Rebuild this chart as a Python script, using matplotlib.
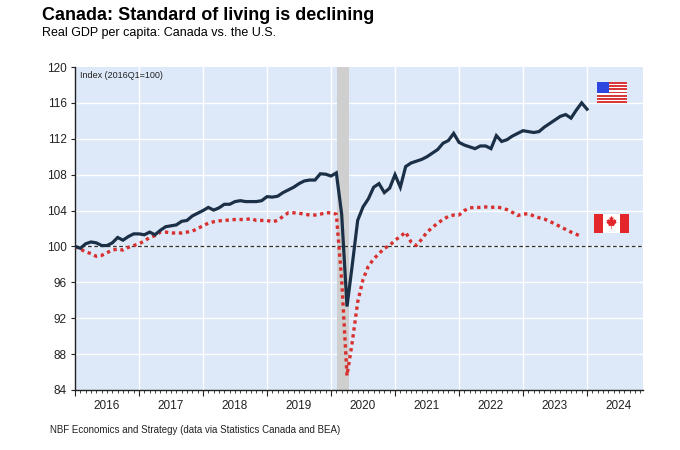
import matplotlib
matplotlib.use("Agg")
import matplotlib.pyplot as plt
import matplotlib.transforms as mtransforms
from matplotlib.patches import Rectangle, Polygon
import numpy as np

plt.rcParams['font.family'] = ['Liberation Sans', 'DejaVu Sans']

# Monthly index values, Jan 2016 = 100
us_vals = [100.0, 99.8, 100.3, 100.5, 100.4, 100.1, 100.1, 100.4, 101.0, 100.7,
           101.1, 101.4, 101.4, 101.3, 101.6, 101.3, 101.8, 102.2, 102.3, 102.4,
           102.8, 102.9, 103.4, 103.7, 104.0, 104.35, 104.05, 104.3, 104.7, 104.7,
           105.0, 105.1, 105.0, 105.0, 105.0, 105.1, 105.55, 105.5, 105.6, 106.0,
           106.3, 106.6, 107.0, 107.3, 107.4, 107.4, 108.1, 108.05, 107.85, 108.2,
           103.6, 93.3, 98.0, 102.9, 104.4, 105.3, 106.6, 107.0, 106.0, 106.5,
           108.0, 106.6, 108.9, 109.3, 109.5, 109.7, 110.0, 110.4, 110.8, 111.5,
           111.8, 112.6, 111.6, 111.3, 111.1, 110.9, 111.2, 111.2, 110.9, 112.35,
           111.7, 111.9, 112.3, 112.6, 112.9, 112.8, 112.7, 112.8, 113.3, 113.7,
           114.1, 114.5, 114.7, 114.3, 115.2, 116.0, 115.3]

ca_vals = [100.0, 99.7, 99.4, 99.2, 98.9, 99.0, 99.3, 99.6, 99.7, 99.6,
           99.9, 100.1, 100.3, 100.6, 101.0, 101.2, 101.6, 101.6, 101.5, 101.5,
           101.5, 101.6, 101.7, 102.0, 102.3, 102.6, 102.75, 102.85, 102.9, 102.95,
           103.0, 103.0, 103.0, 103.1, 102.9, 102.9, 102.9, 102.75, 102.9, 103.35,
           103.75, 103.75, 103.7, 103.6, 103.5, 103.5, 103.6, 103.75, 103.75, 103.6,
           96.3, 85.6, 89.4, 93.8, 96.3, 97.8, 98.6, 99.2, 99.8, 100.1,
           100.7, 101.1, 101.6, 100.5, 100.1, 100.8, 101.6, 102.1, 102.6, 103.0,
           103.35, 103.5, 103.5, 104.0, 104.3, 104.35, 104.35, 104.4, 104.35, 104.4,
           104.3, 104.1, 103.8, 103.45, 103.6, 103.65, 103.4, 103.2, 103.05, 102.8,
           102.5, 102.2, 101.9, 101.6, 101.35, 101.1]

years = list(range(2016, 2025))
y_ticks = [84, 88, 92, 96, 100, 104, 108, 112, 116, 120]
recession = (2020 + 1.1 / 12, 2020 + 3.4 / 12)

us_x = 2016 + np.arange(len(us_vals)) / 12
ca_x = 2016 + np.arange(len(ca_vals)) / 12

fig = plt.figure(figsize=(6.8, 4.5), dpi=100)
ax = fig.add_axes([75 / 680, 1 - 390 / 450, 568 / 680, 323 / 450])
ax.set_facecolor('#dde8f8')

ax.set_xlim(2016, 2016 + 568 / 64)
ax.set_ylim(84, 120)

# grid
for yv in y_ticks[1:-1]:
    ax.axhline(yv, color='white', lw=1.0, zorder=1)
for yr in years[1:]:
    ax.axvline(yr, color='white', lw=1.0, zorder=1)

ax.axvspan(recession[0], recession[1], color='#cfcfcf', lw=0, zorder=2)
ax.axhline(100, color='#333333', lw=0.9, ls=(0, (3, 2)), zorder=3)

ax.plot(us_x, us_vals, color='#1b3047', lw=2.3, zorder=5,
        solid_joinstyle='miter')
ax.plot(ca_x, ca_vals, color='#d7302f', lw=2.4, ls=(0, (1, 1.1)), zorder=4)

# axes styling
for s in ['top', 'right']:
    ax.spines[s].set_visible(False)
ax.spines['left'].set_color('#222222')
ax.spines['bottom'].set_color('#222222')
ax.spines['left'].set_linewidth(1.0)
ax.spines['bottom'].set_linewidth(1.0)

ax.set_yticks(y_ticks)
ax.set_yticklabels([str(v) for v in y_ticks])
ax.tick_params(axis='y', length=3, width=0.8, labelsize=8.5, pad=3,
               colors='#222222')

ax.set_xticks(years)
ax.set_xticklabels([])
ax.set_xticks(2016 + np.arange(0, 107) / 12, minor=True)
ax.tick_params(axis='x', which='major', length=4, width=0.8, colors='#222222')
ax.tick_params(axis='x', which='minor', length=2, width=0.6, colors='#222222')

trans = mtransforms.blended_transform_factory(ax.transData, ax.transAxes)
for yr in years:
    ax.text(yr + 0.5, -0.05, str(yr), transform=trans, ha='center', va='center',
            fontsize=8.5, color='#222222')

ax.text(80 / 680, 1 - 76 / 450, 'Index (2016Q1=100)', transform=fig.transFigure,
        fontsize=6.5, va='center', ha='left', color='#222222')

# titles
fig.text(42 / 680, 1 - 15 / 450, 'Canada: Standard of living is declining',
         fontsize=13, fontweight='bold', ha='left', va='center', color='black')
fig.text(42 / 680, 1 - 33 / 450, 'Real GDP per capita: Canada vs. the U.S.',
         fontsize=9, ha='left', va='center', color='black')
fig.text(50 / 680, 1 - 430 / 450,
         'NBF Economics and Strategy (data via Statistics Canada and BEA)',
         fontsize=7, ha='left', va='center', color='#222222',
         family=['Liberation Sans Narrow', 'Liberation Sans', 'DejaVu Sans'])

# US flag
fa = fig.add_axes([597 / 680, 1 - 103 / 450, 30 / 680, 21 / 450])
fa.set_xlim(0, 1)
fa.set_ylim(0, 13)
for i in range(13):
    fa.add_patch(Rectangle((0, i), 1, 1, color='#d8393b' if i % 2 == 0 else 'white',
                           lw=0))
fa.add_patch(Rectangle((0, 6), 0.4, 7, color='#2f45e0', lw=0))
fa.axis('off')

# Canadian flag
fc = fig.add_axes([594 / 680, 1 - 233 / 450, 35 / 680, 19 / 450])
fc.set_xlim(0, 2)
fc.set_ylim(-0.5, 0.5)
fc.add_patch(Rectangle((0, -0.5), 0.5, 1, color='#e2262a', lw=0))
fc.add_patch(Rectangle((0.5, -0.5), 1, 1, color='white', lw=0))
fc.add_patch(Rectangle((1.5, -0.5), 0.5, 1, color='#e2262a', lw=0))
leaf = np.array([(0, 1), (0.15, 0.7), (0.35, 0.8), (0.3, 0.35), (0.55, 0.55),
                 (0.6, 0.4), (0.85, 0.45), (0.75, 0.2), (0.9, 0.1), (0.45, -0.25),
                 (0.5, -0.4), (0.05, -0.35), (0.05, -0.8), (-0.05, -0.8),
                 (-0.05, -0.35), (-0.5, -0.4), (-0.45, -0.25), (-0.9, 0.1),
                 (-0.75, 0.2), (-0.85, 0.45), (-0.6, 0.4), (-0.55, 0.55),
                 (-0.3, 0.35), (-0.35, 0.8), (-0.15, 0.7)])
leaf = leaf * np.array([0.33, 0.4]) + np.array([1.0, 0.02])
fc.add_patch(Polygon(leaf, closed=True, color='#e2262a', lw=0))
fc.axis('off')

fig.savefig('out.png', dpi=100, facecolor='white')
